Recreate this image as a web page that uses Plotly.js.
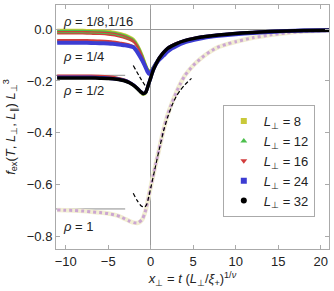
<!DOCTYPE html>
<html><head><meta charset="utf-8">
<script src="https://cdn.plot.ly/plotly-3.0.1.min.js"></script>
<style>body{margin:0;padding:0;background:#fff}#plot{width:334px;height:291px}</style>
</head><body><div id="plot"></div>
<script>
// ---- data ----
const Llabels = ['8', '12', '16', '24', '32'];
const Lcolors = ['#c9c93a', '#4cbf4c', '#d23c3c', '#3c3cd2', '#000000'];
const Lsymbols = ['square', 'triangle-up', 'triangle-down', 'square', 'circle'];

// shared x grid for rho = 1/16, 1/8, 1/4
const xA = [-11,-10,-9,-8,-7,-6,-5,-4.5,-4,-3.5,-3,-2.5,-2,-1.5,-1,-0.7,-0.4,-0.2,0,0.3,0.6,1,1.5,2,2.5,3,4,5,6,7,8,10,12,14,16,18,21];

const r16_L8  = [-0.003,-0.003,-0.003,-0.003,-0.004,-0.005,-0.007,-0.009,-0.012,-0.016,-0.021,-0.028,-0.038,-0.062,-0.098,-0.125,-0.150,-0.160,-0.157,-0.145,-0.130,-0.113,-0.099,-0.083,-0.071,-0.062,-0.048,-0.039,-0.032,-0.027,-0.022,-0.016,-0.011,-0.008,-0.006,-0.004,-0.003];
const r16_L12 = [-0.006,-0.006,-0.006,-0.006,-0.007,-0.008,-0.010,-0.012,-0.015,-0.019,-0.024,-0.031,-0.041,-0.065,-0.100,-0.127,-0.152,-0.162,-0.159,-0.146,-0.131,-0.114,-0.099,-0.083,-0.071,-0.062,-0.048,-0.039,-0.032,-0.027,-0.022,-0.016,-0.011,-0.008,-0.006,-0.004,-0.003];
const r16_L16 = [-0.009,-0.009,-0.009,-0.009,-0.010,-0.011,-0.013,-0.015,-0.018,-0.022,-0.027,-0.034,-0.044,-0.067,-0.102,-0.128,-0.153,-0.163,-0.160,-0.146,-0.130,-0.112,-0.097,-0.081,-0.069,-0.060,-0.046,-0.037,-0.030,-0.025,-0.020,-0.014,-0.010,-0.007,-0.005,-0.003,-0.002];

const r8_L8  = [-0.012,-0.012,-0.012,-0.012,-0.013,-0.014,-0.016,-0.018,-0.021,-0.025,-0.030,-0.036,-0.046,-0.069,-0.104,-0.130,-0.155,-0.165,-0.161,-0.148,-0.132,-0.114,-0.100,-0.084,-0.072,-0.063,-0.049,-0.040,-0.033,-0.028,-0.023,-0.017,-0.012,-0.009,-0.006,-0.005,-0.003];
const r8_L12 = [-0.014,-0.014,-0.014,-0.014,-0.015,-0.016,-0.018,-0.020,-0.023,-0.027,-0.032,-0.038,-0.048,-0.070,-0.105,-0.131,-0.156,-0.166,-0.162,-0.148,-0.132,-0.114,-0.100,-0.084,-0.072,-0.063,-0.049,-0.040,-0.033,-0.028,-0.023,-0.017,-0.012,-0.009,-0.006,-0.005,-0.003];
const r8_L16 = [-0.018,-0.018,-0.018,-0.018,-0.019,-0.020,-0.022,-0.024,-0.027,-0.031,-0.036,-0.042,-0.051,-0.072,-0.106,-0.132,-0.157,-0.167,-0.163,-0.148,-0.131,-0.112,-0.098,-0.082,-0.070,-0.061,-0.047,-0.038,-0.031,-0.026,-0.021,-0.015,-0.011,-0.008,-0.005,-0.004,-0.002];

const r4_L8  = [-0.045,-0.045,-0.045,-0.045,-0.046,-0.047,-0.049,-0.051,-0.053,-0.055,-0.058,-0.062,-0.068,-0.090,-0.118,-0.138,-0.160,-0.170,-0.166,-0.151,-0.134,-0.116,-0.101,-0.085,-0.073,-0.064,-0.050,-0.041,-0.034,-0.028,-0.024,-0.018,-0.013,-0.010,-0.007,-0.005,-0.004];
const r4_L12 = [-0.047,-0.047,-0.047,-0.047,-0.048,-0.049,-0.051,-0.053,-0.055,-0.057,-0.060,-0.064,-0.069,-0.091,-0.119,-0.139,-0.161,-0.171,-0.167,-0.151,-0.134,-0.116,-0.101,-0.085,-0.073,-0.064,-0.050,-0.041,-0.034,-0.028,-0.024,-0.018,-0.013,-0.010,-0.007,-0.005,-0.004];
const r4_L16 = [-0.041,-0.041,-0.041,-0.041,-0.042,-0.043,-0.045,-0.047,-0.049,-0.052,-0.055,-0.059,-0.065,-0.088,-0.117,-0.137,-0.160,-0.170,-0.166,-0.150,-0.132,-0.114,-0.099,-0.083,-0.071,-0.062,-0.048,-0.039,-0.032,-0.027,-0.022,-0.016,-0.012,-0.009,-0.006,-0.004,-0.003];
const r4_L24 = [-0.052,-0.052,-0.052,-0.052,-0.053,-0.054,-0.055,-0.056,-0.058,-0.060,-0.062,-0.065,-0.070,-0.092,-0.120,-0.140,-0.162,-0.172,-0.168,-0.152,-0.135,-0.117,-0.102,-0.086,-0.074,-0.065,-0.051,-0.042,-0.035,-0.029,-0.025,-0.019,-0.014,-0.010,-0.007,-0.005,-0.004];

// rho = 1/2
const xB = [-11,-10,-9,-8,-7,-6,-5,-4,-3.5,-3,-2.5,-2,-1.5,-1.2,-0.9,-0.6,-0.3,0,0.3,0.6,1,1.5,2,2.5,3,4,5,6,7,8,10,12,14,16,18,21];
const r2_L8  = [-0.184,-0.184,-0.184,-0.184,-0.184,-0.185,-0.187,-0.190,-0.194,-0.199,-0.207,-0.218,-0.234,-0.245,-0.253,-0.249,-0.222,-0.190,-0.159,-0.136,-0.112,-0.090,-0.074,-0.064,-0.056,-0.044,-0.036,-0.030,-0.026,-0.022,-0.016,-0.012,-0.009,-0.007,-0.005,-0.004];
const r2_L12 = [-0.183,-0.183,-0.183,-0.183,-0.183,-0.184,-0.186,-0.189,-0.193,-0.198,-0.206,-0.217,-0.233,-0.243,-0.251,-0.247,-0.220,-0.189,-0.158,-0.136,-0.112,-0.090,-0.074,-0.064,-0.056,-0.044,-0.036,-0.030,-0.026,-0.022,-0.016,-0.012,-0.009,-0.007,-0.005,-0.004];
const r2_L16 = [-0.180,-0.180,-0.180,-0.180,-0.180,-0.181,-0.183,-0.187,-0.191,-0.196,-0.204,-0.215,-0.230,-0.241,-0.248,-0.243,-0.216,-0.186,-0.156,-0.134,-0.110,-0.088,-0.072,-0.062,-0.054,-0.043,-0.035,-0.029,-0.025,-0.021,-0.015,-0.011,-0.008,-0.006,-0.004,-0.003];
const r2_L24 = [-0.186,-0.186,-0.186,-0.186,-0.186,-0.187,-0.189,-0.192,-0.195,-0.199,-0.206,-0.216,-0.231,-0.241,-0.248,-0.244,-0.218,-0.188,-0.158,-0.136,-0.112,-0.090,-0.074,-0.064,-0.056,-0.044,-0.036,-0.030,-0.026,-0.022,-0.016,-0.012,-0.009,-0.007,-0.005,-0.004];
const r2_L32 = [-0.188,-0.188,-0.188,-0.188,-0.188,-0.189,-0.190,-0.193,-0.196,-0.200,-0.207,-0.217,-0.231,-0.241,-0.248,-0.244,-0.218,-0.188,-0.158,-0.136,-0.112,-0.090,-0.074,-0.064,-0.056,-0.044,-0.036,-0.030,-0.026,-0.022,-0.016,-0.012,-0.009,-0.007,-0.005,-0.004];

// rho = 1
const xC = [-11,-10,-9,-8,-7,-6,-5,-4,-3.5,-3,-2.5,-2,-1.5,-1,-0.7,-0.4,-0.2,0,0.3,0.6,1,1.5,2,2.5,3,3.5,4,5,6,7,8,9,10,12,14,16,18,21];
const r1 = [-0.699,-0.700,-0.701,-0.703,-0.706,-0.709,-0.713,-0.720,-0.726,-0.734,-0.742,-0.748,-0.749,-0.736,-0.712,-0.675,-0.640,-0.610,-0.565,-0.520,-0.463,-0.390,-0.330,-0.285,-0.245,-0.210,-0.180,-0.140,-0.110,-0.086,-0.068,-0.057,-0.048,-0.033,-0.022,-0.014,-0.009,-0.005];

// asymptotic (dashed) curves
const dashHalfX = [-2.05, -1.3, -0.5];
const dashHalfY = [-0.140, -0.184, -0.226];
const dashOneX = [-2.05,-1.6,-1.1,-0.7,-0.45,-0.2,0,0.5,1,1.5,2,2.5,3,3.5,4,4.8];
const dashOneY = [-0.634,-0.662,-0.684,-0.688,-0.676,-0.645,-0.615,-0.540,-0.465,-0.395,-0.340,-0.295,-0.260,-0.235,-0.215,-0.190];

// bulk values (gray reference lines)
const bulkX = [-11.2, -3];
const bulkHalf = [-0.178, -0.178];
const bulkOne = [-0.695, -0.695];

// rho labels
const rhoText = ['<i>ρ</i> = 1/8,1/16', '<i>ρ</i> = 1/4', '<i>ρ</i> = 1/2', '<i>ρ</i> = 1'];
const rhoX = [-10.55, -10.55, -10.55, -10.55];
const rhoY = [0.029, -0.106, -0.235, -0.761];

// ---- build traces ----
const traces = [];
function line(x, y, color, width, dash) {
  traces.push({x: x, y: y, type: 'scatter', mode: 'lines', showlegend: false, hoverinfo: 'skip',
    line: {color: color, width: width, dash: dash || 'solid', shape: 'spline', smoothing: 0.6}});
}
line(bulkX, bulkHalf, '#8c8c8c', 1);
line(bulkX, bulkOne, '#8c8c8c', 1);
// rho = 1 in light colours
line(xC, r1, '#f2eed2', 4.5);
line(xC, r1, '#cba6d2', 3, 'dot');

const groups = [
  [xA, [r16_L8, r16_L12, r16_L16, null, null], [2.5, 2, 1.3, 0, 0]],
  [xA, [r8_L8, r8_L12, r8_L16, null, null], [2.5, 2, 1.3, 0, 0]],
  [xA, [r4_L8, r4_L12, r4_L16, r4_L24, null], [2.5, 2.5, 2, 4, 0]],
  [xB, [r2_L8, r2_L12, r2_L16, r2_L24, r2_L32], [2.5, 2.5, 2.5, 3.5, 3.5]]
];
for (let k = 0; k < 5; k++) {
  groups.forEach(g => { if (g[1][k]) line(g[0], g[1][k], Lcolors[k], g[2][k]); });
}
line(dashHalfX, dashHalfY, '#000', 1.2, '4px,2.5px');
line(dashOneX, dashOneY, '#000', 1.2, '4px,2.5px');

// legend entries
for (let k = 0; k < 5; k++) {
  traces.push({x: [null], y: [null], type: 'scatter', mode: 'markers',
    name: '<i>L</i><sub>⊥</sub> = ' + Llabels[k],
    marker: {color: Lcolors[k], symbol: Lsymbols[k], size: 6}});
}

const font = {family: 'Liberation Sans, Arial, sans-serif', size: 13, color: '#222'};
const axisCommon = {
  showline: true, linecolor: '#aaa', linewidth: 1, mirror: 'ticks',
  ticks: 'inside', ticklen: 4, tickcolor: '#aaa', tickwidth: 1,
  showgrid: false, zeroline: true, zerolinecolor: '#999', zerolinewidth: 1,
  tickfont: font
};
const layout = {
  width: 334, height: 291,
  margin: {l: 56, r: 5, t: 5, b: 42},
  paper_bgcolor: '#fff', plot_bgcolor: '#fff',
  font: font,
  xaxis: Object.assign({}, axisCommon, {
    range: [-11.14, 20.98], tickvals: [-10, -5, 0, 5, 10, 15, 20],
    title: {text: '<i>x</i><sub>⊥</sub> = <i>t</i> (<i>L</i><sub>⊥</sub>/<i>ξ</i><sub>+</sub>)<sup>1/<i>ν</i></sup>', font: font, standoff: 6}
  }),
  yaxis: Object.assign({}, axisCommon, {
    range: [-0.85, 0.094], tickvals: [0, -0.2, -0.4, -0.6, -0.8], tickformat: '.1f',
    title: {text: '<i>f</i><sub>ex</sub>(<i>T</i>, <i>L</i><sub>⊥</sub>, <i>L</i><sub>∥</sub>) <i>L</i><sub>⊥</sub><sup>3</sup>', font: font, standoff: 8}
  }),
  legend: {x: 0.611, y: 0.59, xanchor: 'left', yanchor: 'top', bgcolor: '#fff',
    bordercolor: '#aaa', borderwidth: 1, font: font, tracegroupgap: 0},
  annotations: rhoText.map((t, i) => ({x: rhoX[i], y: rhoY[i], xref: 'x', yref: 'y', text: t,
    showarrow: false, xanchor: 'left', yanchor: 'middle', font: font})),
  showlegend: true
};
Plotly.newPlot('plot', traces, layout, {displayModeBar: false, staticPlot: true});
</script>
</body></html>
